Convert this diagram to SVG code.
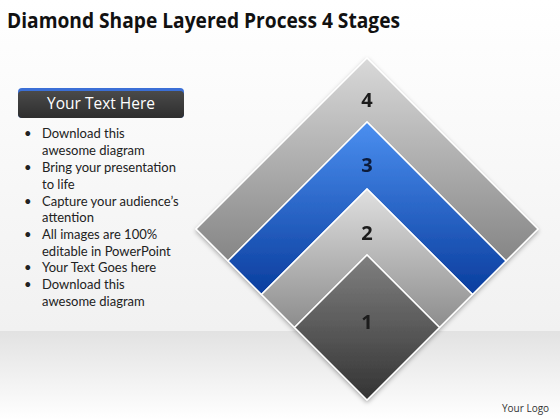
<svg xmlns="http://www.w3.org/2000/svg" width="560" height="420" viewBox="0 0 560 420">
<defs>
<linearGradient id="bgTop" x1="0" y1="0" x2="0" y2="1"><stop offset="0" stop-color="#ffffff"/><stop offset="1" stop-color="#f1f1f1"/></linearGradient>
<linearGradient id="bgBot" x1="0" y1="0" x2="0" y2="1"><stop offset="0" stop-color="#e2e2e2"/><stop offset="1" stop-color="#ffffff"/></linearGradient>
<linearGradient id="g4" gradientUnits="userSpaceOnUse" x1="0" y1="58" x2="0" y2="261"><stop offset="0" stop-color="#d9d9d9"/><stop offset="1" stop-color="#858585"/></linearGradient>
<linearGradient id="g3" gradientUnits="userSpaceOnUse" x1="0" y1="122" x2="0" y2="295"><stop offset="0" stop-color="#4b8ff0"/><stop offset="1" stop-color="#0a3d9e"/></linearGradient>
<linearGradient id="g2" gradientUnits="userSpaceOnUse" x1="0" y1="189" x2="0" y2="328"><stop offset="0" stop-color="#e0e0e0"/><stop offset="1" stop-color="#8c8c8c"/></linearGradient>
<linearGradient id="g1" gradientUnits="userSpaceOnUse" x1="0" y1="255" x2="0" y2="400"><stop offset="0" stop-color="#808080"/><stop offset="1" stop-color="#333333"/></linearGradient>
<linearGradient id="hdr" x1="0" y1="0" x2="0" y2="1"><stop offset="0" stop-color="#4a4a4a"/><stop offset="1" stop-color="#2e2e2e"/></linearGradient>
<filter id="sh" x="-10%" y="-10%" width="120%" height="120%"><feDropShadow dx="0" dy="2" stdDeviation="2" flood-color="#000" flood-opacity="0.3"/></filter>
</defs>
<style>
.layer{stroke:#ffffff;stroke-width:1.5;stroke-linejoin:miter}
.num{font-family:"Open Sans","Liberation Sans",sans-serif;font-weight:bold;font-size:20px;text-anchor:middle;fill:#1a1a1a}
.bul{font-family:Lato,"Liberation Sans",sans-serif;font-size:13px;fill:#222}
</style>
<rect x="0" y="0" width="560" height="331" fill="url(#bgTop)"/>
<rect x="0" y="331" width="560" height="89" fill="url(#bgBot)"/>
<text x="7" y="28" font-family="Open Sans,Liberation Sans,sans-serif" font-weight="bold" font-size="21" fill="#111" textLength="393" lengthAdjust="spacingAndGlyphs">Diamond Shape Layered Process 4 Stages</text>
<g id="header">
<rect x="18" y="88" width="166" height="30" rx="4" fill="#3b6fd6"/>
<rect x="18" y="91" width="166" height="27" rx="4" fill="url(#hdr)"/>
<text x="101" y="109" font-family="Open Sans,Liberation Sans,sans-serif" font-size="15.5" fill="#ffffff" text-anchor="middle">Your Text Here</text>
</g>
<g id="bullets" class="bul">
<text x="24" y="138">•</text><text x="42" y="138">Download this</text>
<text x="42" y="155">awesome diagram</text>
<text x="24" y="172">•</text><text x="42" y="172">Bring your presentation</text>
<text x="42" y="189">to life</text>
<text x="24" y="206">•</text><text x="42" y="206">Capture your audience’s</text>
<text x="42" y="222">attention</text>
<text x="24" y="239">•</text><text x="42" y="239">All images are 100%</text>
<text x="42" y="256">editable in PowerPoint</text>
<text x="24" y="272">•</text><text x="42" y="272">Your Text Goes here</text>
<text x="24" y="289">•</text><text x="42" y="289">Download this</text>
<text x="42" y="306">awesome diagram</text>
</g>
<g filter="url(#sh)">
<g id="stage4">
<polygon class="layer" fill="url(#g4)" points="367,58 538,229 506,261 367,122 228,261 196,229"/>
<text class="num" x="367" y="107">4</text>
</g>
<g id="stage3">
<polygon class="layer" fill="url(#g3)" points="367,122 506,261 472.5,294.5 367,189 261.5,294.5 228,261"/>
<text class="num" x="367" y="172" style="fill:#0b1a3a">3</text>
</g>
<g id="stage2">
<polygon class="layer" fill="url(#g2)" points="367,189 472.5,294.5 439.5,327.5 367,255 294.5,327.5 261.5,294.5"/>
<text class="num" x="367" y="240">2</text>
</g>
<g id="stage1">
<polygon class="layer" fill="url(#g1)" points="367,255 439.5,327.5 367,400 294.5,327.5"/>
<text class="num" x="367" y="329">1</text>
</g>
</g>
<text x="502" y="412" font-family="Open Sans,Liberation Sans,sans-serif" font-size="10" fill="#333">Your Logo</text>
</svg>
